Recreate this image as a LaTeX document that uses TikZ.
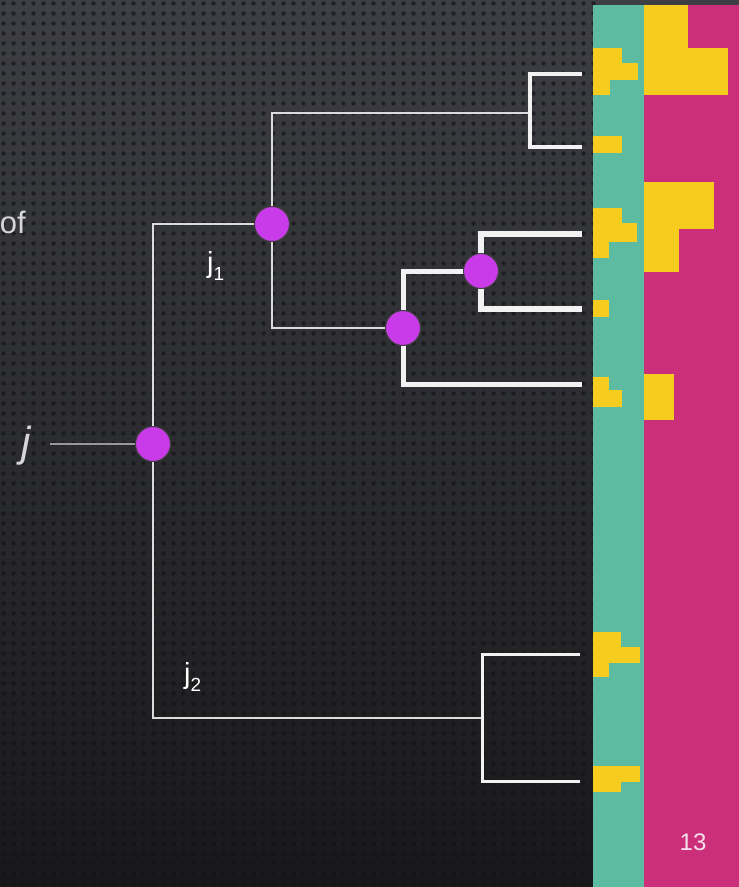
\documentclass[tikz,border=0pt]{standalone}
\usepackage{fontspec}
\setmainfont{Liberation Sans}
\usetikzlibrary{patterns}
\definecolor{bgTop}{HTML}{3E3F44}
\definecolor{bgBot}{HTML}{18181A}
\definecolor{hmTeal}{HTML}{5CBBA1}
\definecolor{hmPink}{HTML}{CC2F7A}
\definecolor{hmYellow}{HTML}{F6CC1F}
\definecolor{nodePurple}{HTML}{C93BE9}
\definecolor{lineWhite}{HTML}{F2F2F2}
\definecolor{lineGrey}{HTML}{DCDCDC}
\definecolor{textGrey}{HTML}{D6D6D6}
\definecolor{dotCol}{HTML}{141416}
\pgfdeclarepatternformonly{bgdots}{\pgfpointorigin}{\pgfpoint{10pt}{10pt}}{\pgfpoint{10pt}{10pt}}{%
  \pgfpathcircle{\pgfpoint{5pt}{5pt}}{2.4pt}\pgfusepath{fill}}
\tikzset{
  branch/.style={draw=lineWhite, line join=miter, line cap=butt},
  thinbranch/.style={branch, draw=lineGrey, line width=2.2pt},
  nodedot/.style={circle, fill=nodePurple, draw=black!75, line width=1pt, minimum size=35pt, inner sep=0pt},
  lbl/.style={text=white, inner sep=0pt, font=\fontsize{29}{31}\selectfont},
  yblock/.style={fill=hmYellow}
}
\begin{document}
\begin{tikzpicture}[x=1pt,y=-1pt]
\useasboundingbox (0,0) rectangle (739,887);
% background
\shade[top color=bgTop, bottom color=bgBot] (0,0) rectangle (739,887);
\fill[pattern=bgdots, pattern color=dotCol, fill opacity=0.7] (0,0) rectangle (600,887);

% heatmap columns
\fill[hmTeal] (593,5) rectangle (644,887);
\fill[hmPink] (644,5) rectangle (739,887);
% yellow cells, teal column
\fill[yblock] (593,48) rectangle (622,63);
\fill[yblock] (593,63) rectangle (638,80);
\fill[yblock] (593,80) rectangle (610,95);
\fill[yblock] (593,136) rectangle (622,153);
\fill[yblock] (593,208) rectangle (622,223);
\fill[yblock] (593,223) rectangle (637,242);
\fill[yblock] (593,242) rectangle (609,258);
\fill[yblock] (593,300) rectangle (609,317);
\fill[yblock] (593,377) rectangle (609,407);
\fill[yblock] (609,390) rectangle (622,407);
\fill[yblock] (593,632) rectangle (621,647);
\fill[yblock] (593,647) rectangle (640,663);
\fill[yblock] (593,663) rectangle (609,677);
\fill[yblock] (593,766) rectangle (640,782);
\fill[yblock] (593,782) rectangle (621,792);
% yellow cells, pink column
\fill[yblock] (644,5) rectangle (688,95);
\fill[yblock] (688,48) rectangle (728,95);
\fill[yblock] (644,182) rectangle (714,229);
\fill[yblock] (644,229) rectangle (679,272);
\fill[yblock] (644,374) rectangle (674,420);

% coordinates
\coordinate (R) at (153,444);
\coordinate (J1) at (272,224);
\coordinate (N2) at (403,328);
\coordinate (N3) at (481,271);
\coordinate (T1) at (530,113);
\coordinate (B2) at (482,718);
\coordinate (jstart) at (50,444);
\coordinate (L1) at (582,74);
\coordinate (L2) at (582,147);
\coordinate (L3) at (582,234);
\coordinate (L4) at (582,309);
\coordinate (L5) at (582,384);
\coordinate (L6) at (580,654);
\coordinate (L7) at (580,781);

% connectors
\draw[draw=gray!80, line width=1.3pt] (jstart) -- (R);
\draw[thinbranch] (J1) -| (R) |- (B2);
\draw[thinbranch] (T1) -| (J1) |- (N2);
\draw[branch, line width=4pt] (L1) -| (T1) |- (L2);
\draw[branch, line width=5pt] (N3) -| (N2) |- (L5);
\draw[branch, line width=6pt] (L3) -| (N3) |- (L4);
\draw[branch, line width=3pt] (L6) -| (B2) |- (L7);

% internal nodes
\node[nodedot] (nR) at (R) {};
\node[nodedot] (nJ1) at (J1) {};
\node[nodedot] (nN2) at (N2) {};
\node[nodedot] (nN3) at (N3) {};

% labels
\node[lbl, anchor=base west] (lj1) at (207,272) {j\raisebox{-8pt}{\fontsize{19}{20}\selectfont 1}};
\node[lbl, anchor=base west] (lj2) at (184,683) {j\raisebox{-8pt}{\fontsize{19}{20}\selectfont 2}};
\node[text=textGrey, inner sep=0pt, anchor=base east, font=\fontsize{31}{33}\selectfont] (of) at (26,233) {of};
\node[text=textGrey, inner sep=0pt, font=\fontsize{42}{44}\itshape] (lj) at (26,446) {j};
\node[text=white, opacity=0.85, inner sep=0pt, font=\fontsize{24}{26}\selectfont] (pg) at (693,842) {13};
\end{tikzpicture}
\end{document}
